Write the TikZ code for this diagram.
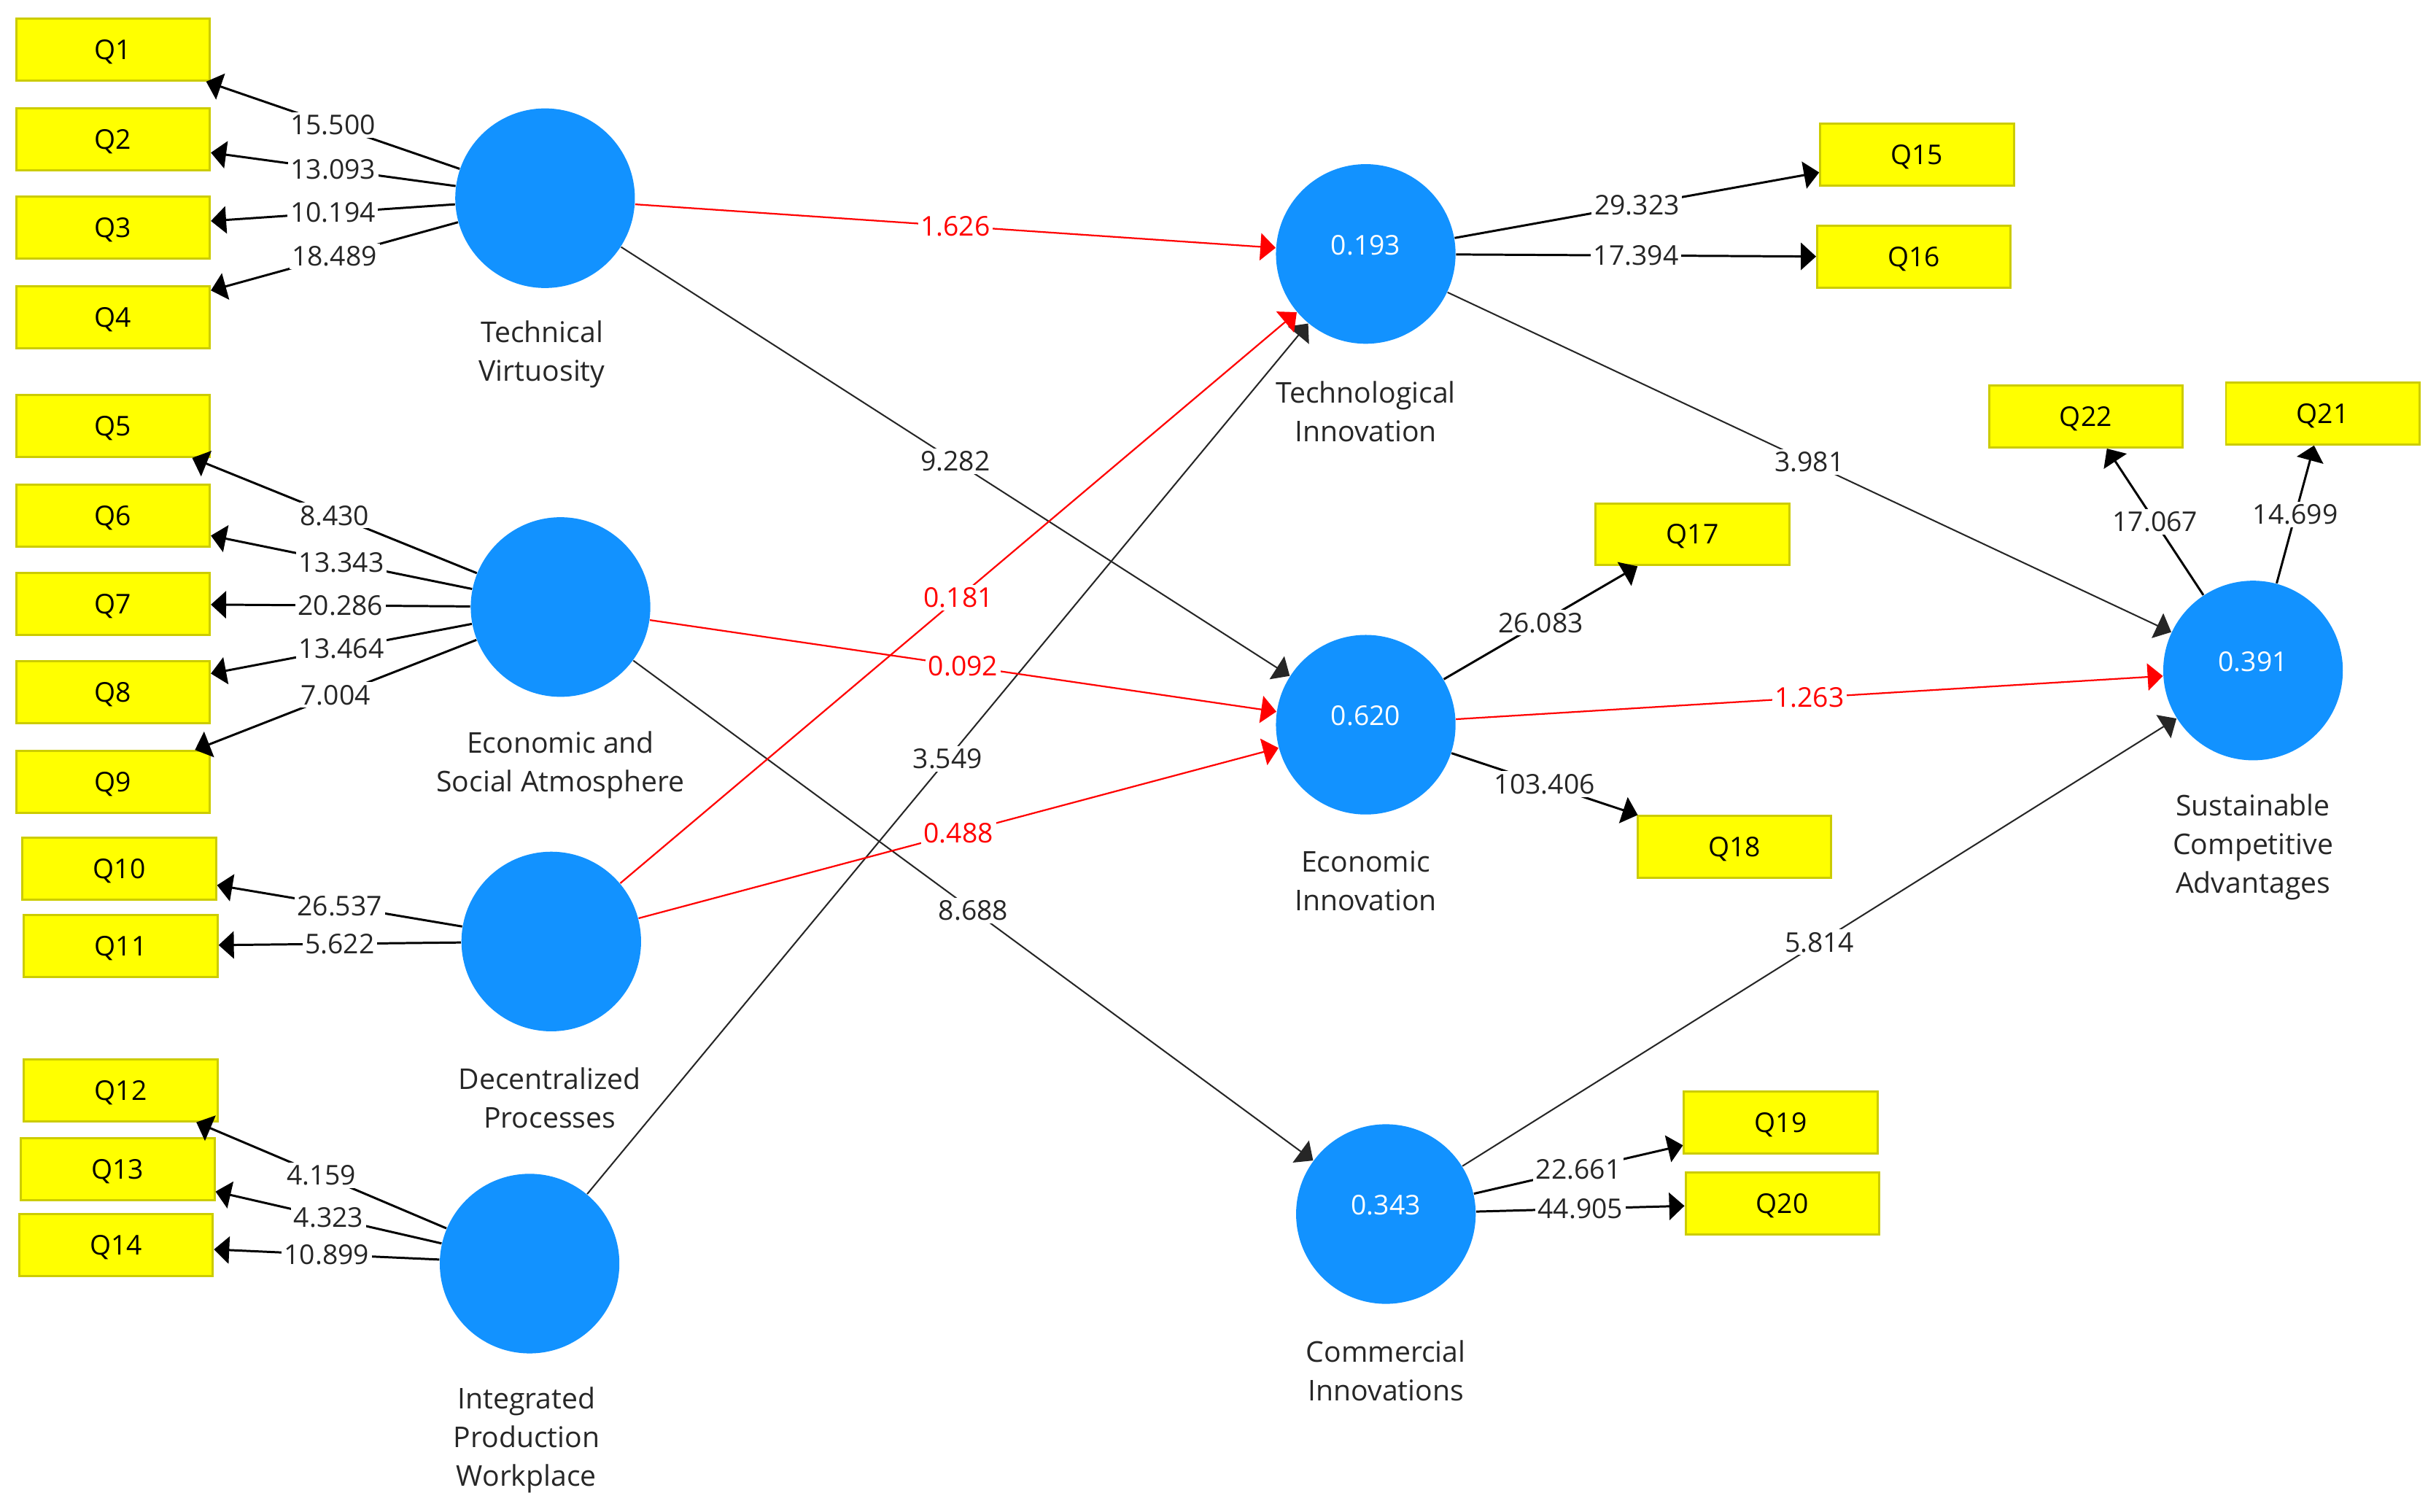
\documentclass[tikz,border=0pt]{standalone}
\usepackage{fontspec}
\setmainfont{Open Sans}
\usetikzlibrary{arrows.meta}
\definecolor{lvblue}{RGB}{18,146,255}
\definecolor{boxedge}{RGB}{204,204,0}
\definecolor{boxfill}{RGB}{255,255,0}
\definecolor{nsred}{RGB}{255,0,0}
\begin{document}
\begin{tikzpicture}[x=0.02cm,y=-0.02cm,
  font=\fontsize{10}{14.2}\selectfont,
  lv/.style={circle, fill=lvblue, minimum size=2.32cm, inner sep=0pt, text=white},
  mv/.style={rectangle, fill=boxfill, draw=boxedge, line width=0.8pt, minimum width=2.5cm, minimum height=0.8cm, inner sep=0pt, text depth=0pt},
  captext/.style={align=center, text=black!85, font=\fontsize{10.5}{14.2}\selectfont},
  tipend/.style={-{Triangle[length=5.6pt,width=10pt]}},
  outer/.style={tipend, draw=black, line width=0.8pt},
  inpath/.style={tipend, draw=black!85, line width=0.55pt},
  nspath/.style={tipend, draw=nsred, line width=0.6pt},
  num/.style={fill=white, inner sep=1pt, text=black!85},
  rnum/.style={fill=white, inner sep=1pt, text=nsred},
]
\useasboundingbox (0,0) rectangle (1568,976);

% indicators
\node[mv] (Q1) at (73,32) {Q1};
\node[mv] (Q2) at (73,90) {Q2};
\node[mv] (Q3) at (73,147) {Q3};
\node[mv] (Q4) at (73,205) {Q4};
\node[mv] (Q5) at (73,275) {Q5};
\node[mv] (Q6) at (73,333) {Q6};
\node[mv] (Q7) at (73,390) {Q7};
\node[mv] (Q8) at (73,447) {Q8};
\node[mv] (Q9) at (73,505) {Q9};
\node[mv] (Q10) at (77,561) {Q10};
\node[mv] (Q11) at (78,611) {Q11};
\node[mv] (Q12) at (78,704) {Q12};
\node[mv] (Q13) at (76,755) {Q13};
\node[mv] (Q14) at (75,804) {Q14};
\node[mv] (Q15) at (1238,100) {Q15};
\node[mv] (Q16) at (1236,166) {Q16};
\node[mv] (Q17) at (1093,345) {Q17};
\node[mv] (Q18) at (1120,547) {Q18};
\node[mv] (Q19) at (1150,725) {Q19};
\node[mv] (Q20) at (1151,777) {Q20};
\node[mv] (Q21) at (1500,267) {Q21};
\node[mv] (Q22) at (1347,269) {Q22};

% latent variables
\node[lv] (TV) at (352,128) {};
\node[lv] (ESA) at (362,392) {};
\node[lv] (DP) at (356,608) {};
\node[lv] (IPW) at (342,816) {};
\node[lv] (TI) at (882,164) {\raisebox{6.8pt}{0.193}};
\node[lv] (EI) at (882,468) {\raisebox{6.8pt}{0.620}};
\node[lv] (CI) at (895,784) {\raisebox{6.8pt}{0.343}};
\node[lv] (SCA) at (1455,433) {\raisebox{6.8pt}{0.391}};

% captions
\node[captext] (cTV) at (350,229) {Technical\\Virtuosity};
\node[captext] (cESA) at (362,494) {Economic and\\Social Atmosphere};
\node[captext] (cDP) at (355,709) {Decentralized\\Processes};
\node[captext] (cIPW) at (340,930) {Integrated\\Production\\Workplace};
\node[captext] (cTI) at (882,266) {Technological\\Innovation};
\node[captext] (cEI) at (882,569) {Economic\\Innovation};
\node[captext] (cCI) at (895,885) {Commercial\\Innovations};
\node[captext] (cSCA) at (1455,547) {Sustainable\\Competitive\\Advantages};

% outer model
\draw[outer] (TV) -- node[num]{15.500} (Q1);
\draw[outer] (TV) -- node[num]{13.093} (Q2);
\draw[outer] (TV) -- node[num]{10.194} (Q3);
\draw[outer] (TV) -- node[num]{18.489} (Q4);
\draw[outer] (ESA) -- node[num]{8.430} (Q5);
\draw[outer] (ESA) -- node[num]{13.343} (Q6);
\draw[outer] (ESA) -- node[num]{20.286} (Q7);
\draw[outer] (ESA) -- node[num]{13.464} (Q8);
\draw[outer] (ESA) -- node[num]{7.004} (Q9);
\draw[outer] (DP) -- node[num]{26.537} (Q10);
\draw[outer] (DP) -- node[num]{5.622} (Q11);
\draw[outer] (IPW) -- node[num]{4.159} (Q12);
\draw[outer] (IPW) -- node[num]{4.323} (Q13);
\draw[outer] (IPW) -- node[num]{10.899} (Q14);
\draw[outer] (TI) -- node[num]{29.323} (Q15);
\draw[outer] (TI) -- node[num]{17.394} (Q16);
\draw[outer] (EI) -- node[num]{26.083} (Q17);
\draw[outer] (EI) -- node[num]{103.406} (Q18);
\draw[outer] (CI) -- node[num]{22.661} (Q19);
\draw[outer] (CI) -- node[num]{44.905} (Q20);
\draw[outer] (SCA) -- node[num]{14.699} (Q21);
\draw[outer] (SCA) -- node[num]{17.067} (Q22);

% inner model
\draw[inpath] (TV) -- node[num]{9.282} (EI);
\draw[inpath] (ESA) -- node[num]{8.688} (CI);
\draw[inpath] (IPW) -- node[num]{3.549} (TI);
\draw[nspath] (DP) -- node[rnum]{0.181} (TI);
\draw[nspath] (TV) -- node[rnum]{1.626} (TI);
\draw[nspath] (ESA) -- node[rnum]{0.092} (EI);
\draw[nspath] (DP) -- node[rnum]{0.488} (EI);
\draw[inpath] (TI) -- node[num]{3.981} (SCA);
\draw[nspath] (EI) -- node[rnum]{1.263} (SCA);
\draw[inpath] (CI) -- node[num]{5.814} (SCA);
\end{tikzpicture}
\end{document}
